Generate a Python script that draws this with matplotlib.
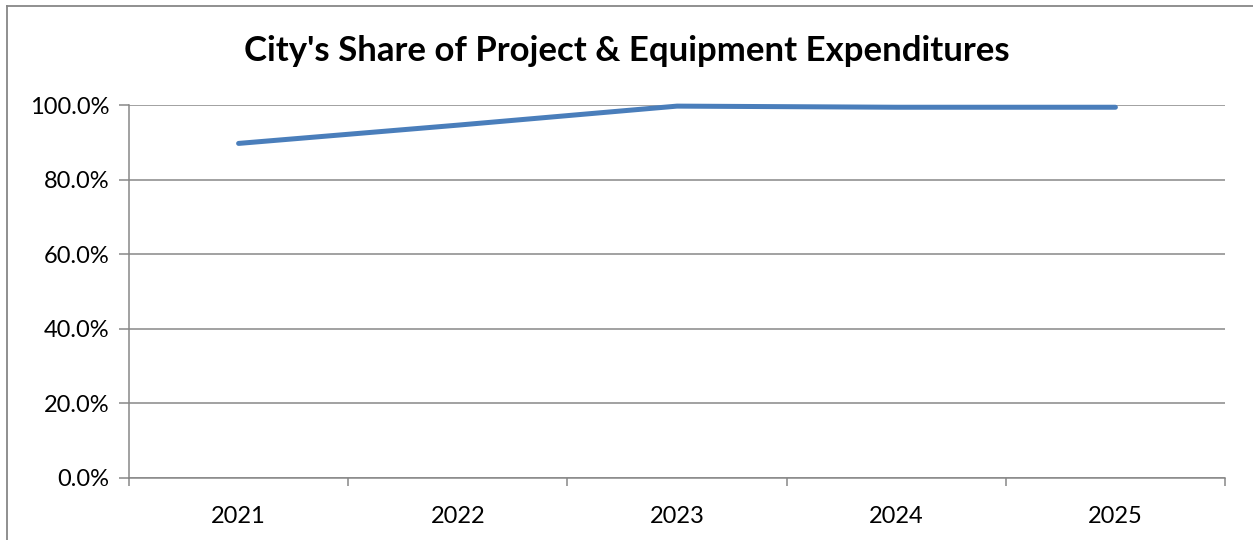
import matplotlib
matplotlib.use("Agg")
import matplotlib.pyplot as plt
from matplotlib.ticker import FixedLocator, PercentFormatter
from matplotlib.lines import Line2D

years = ["2021", "2022", "2023", "2024", "2025"]
share = [89.7, 94.6, 99.7, 99.4, 99.4]
yticks = [0, 20, 40, 60, 80, 100]

plt.rcParams['font.family'] = ['Lato', 'DejaVu Sans']

fig = plt.figure(figsize=(12.53, 5.40), dpi=100)
ax = fig.add_axes([129/1253, 62/540, (1225-129)/1253, (478-105)/540])

x = list(range(len(years)))
ax.plot(x, share, color='#4A7EBB', lw=3.6, solid_capstyle='round', zorder=3, clip_on=False)

ax.set_xlim(-0.5, len(years) - 0.5)
ax.set_ylim(0, 100)
ax.yaxis.set_major_locator(FixedLocator(yticks))
ax.yaxis.set_major_formatter(PercentFormatter(decimals=1))
ax.grid(axis='y', color='#878787', lw=1.1)
ax.set_axisbelow(True)

ax.xaxis.set_major_locator(FixedLocator([i - 0.5 for i in range(len(years) + 1)]))
ax.xaxis.set_minor_locator(FixedLocator(x))
ax.set_xticklabels([])
ax.set_xticklabels(years, minor=True)
ax.tick_params(axis='x', which='major', length=6, width=1.1, color='#878787', direction='out')
ax.tick_params(axis='x', which='minor', length=0, pad=20, labelsize=17)
ax.tick_params(axis='y', length=7, width=1.1, color='#878787', direction='out', labelsize=17, pad=7)

for s in ['top', 'right']:
    ax.spines[s].set_visible(False)
for s in ['left', 'bottom']:
    ax.spines[s].set_color('#878787')
    ax.spines[s].set_linewidth(1.1)

fig.text(0.5, 1 - 51/540, "City's Share of Project & Equipment Expenditures",
         ha='center', va='center', fontsize=25, fontweight='bold')

# outer chart frame (only left and top edges visible in the image)
fig.add_artist(Line2D([7/1253, 7/1253], [0, 1 - 6/540], transform=fig.transFigure, color='#878787', lw=1.3))
fig.add_artist(Line2D([7/1253, 1], [1 - 6/540, 1 - 6/540], transform=fig.transFigure, color='#878787', lw=1.3))

fig.savefig("out.png", dpi=100)
